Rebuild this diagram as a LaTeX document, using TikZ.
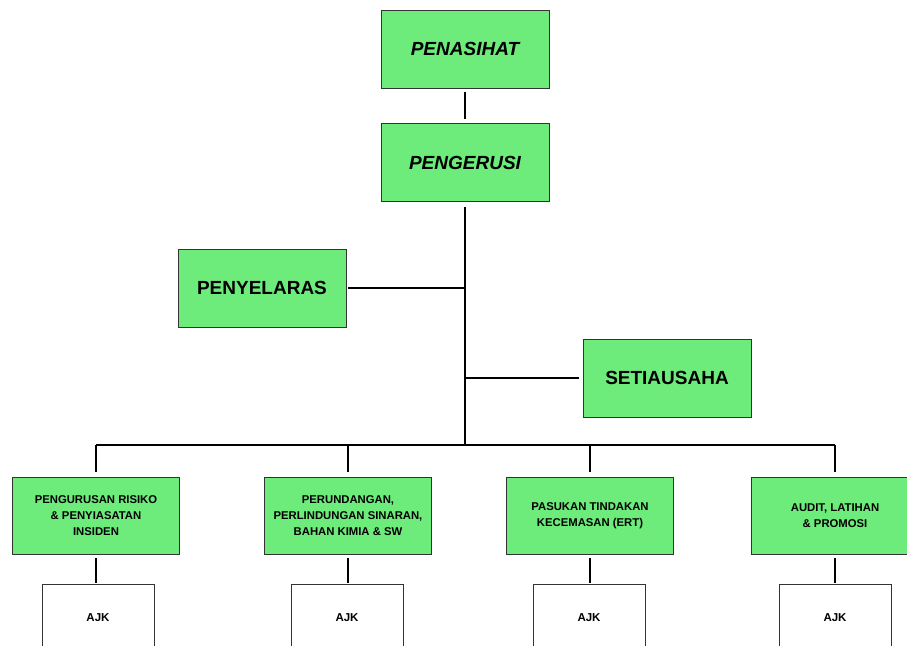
\documentclass[tikz,border=0pt]{standalone}
\usepackage{fontspec}
\setmainfont{Liberation Sans}
\definecolor{boxgreen}{HTML}{6DEB7B}
\definecolor{boxline}{HTML}{333333}
\begin{document}
\begin{tikzpicture}[x=1pt,y=-1pt,
  topbox/.style={draw=boxline, line width=0.8pt, fill=boxgreen, minimum width=168pt, minimum height=78pt, inner sep=0pt, font=\fontsize{19}{22}\selectfont\bfseries},
  unitbox/.style={draw=boxline, line width=0.8pt, fill=boxgreen, minimum width=167pt, minimum height=77pt, inner sep=0pt, align=center, font=\fontsize{11.3}{16}\selectfont\bfseries},
  ajkbox/.style={draw=boxline, line width=0.6pt, fill=white, minimum width=112pt, minimum height=68pt, inner sep=0pt, font=\fontsize{11.5}{14}\selectfont\bfseries},
  conn/.style={line width=1.8pt, black}]
\useasboundingbox (0,0) rectangle (907,645);
\clip (0,0) rectangle (907,645);

\node[topbox] (penasihat) at (465,49) {\itshape PENASIHAT};
\node[topbox] (pengerusi) at (465,162.5) {\itshape PENGERUSI};
\node[topbox] (penyelaras) at (262,288) {PENYELARAS};
\node[topbox] (setiausaha) at (667,378) {SETIAUSAHA};

\node[unitbox] (r1) at (96,515.5) {PENGURUSAN RISIKO\\\& PENYIASATAN\\INSIDEN};
\node[unitbox] (r2) at (348,515.5) {PERUNDANGAN,\\PERLINDUNGAN SINARAN,\\BAHAN KIMIA \& SW};
\node[unitbox] (r3) at (590,515.5) {PASUKAN TINDAKAN\\KECEMASAN (ERT)};
\node[unitbox] (r4) at (835,515.5) {AUDIT, LATIHAN\\\& PROMOSI};

\node[ajkbox] (a1) at (98,618) {AJK};
\node[ajkbox] (a2) at (347,618) {AJK};
\node[ajkbox] (a3) at (589,618) {AJK};
\node[ajkbox] (a4) at (835,618) {AJK};

\coordinate (bus) at (0,445);

\draw[conn, shorten <=4pt, shorten >=4pt] (penasihat.south) -- (pengerusi.north);
\draw[conn, shorten <=5pt] (pengerusi.south) -- (pengerusi.south |- bus);
\draw[conn, shorten <=2pt] (penyelaras.east) -- (penyelaras.east -| pengerusi.south);
\draw[conn, shorten >=4pt] (setiausaha.west -| pengerusi.south) -- (setiausaha.west);
\draw[conn] (r1.north |- bus) -- (r4.north |- bus);
\foreach \r in {r1,r2,r3,r4}{
  \draw[conn, shorten >=5pt] (\r.north |- bus) -- (\r.north);
}
\foreach \r/\a in {r1/a1,r2/a2,r3/a3,r4/a4}{
  \draw[conn, shorten <=4pt, shorten >=1pt] (\r.south) -- (\r.south |- \a.north);
}
\end{tikzpicture}
\end{document}
